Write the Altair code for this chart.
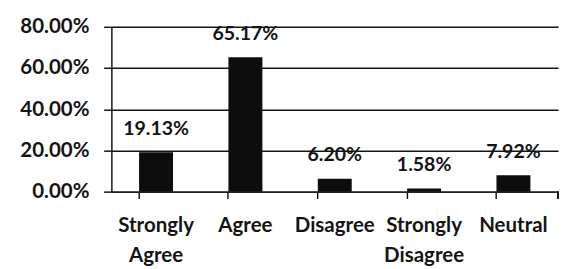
import altair as alt
import pandas as pd

categories = ["Strongly Agree", "Agree", "Disagree", "Strongly Disagree", "Neutral"]
values = [19.13, 65.17, 6.20, 1.58, 7.92]

df = pd.DataFrame({"category": categories, "value": values})

FONT = "Lato"
WEIGHT = "bold"
INK = "#141414"
W, H = 458, 169

x_enc = alt.X(
    "category:N",
    sort=categories,
    scale=alt.Scale(paddingInner=0.62, paddingOuter=0.31),
    axis=alt.Axis(
        title=None,
        labelAngle=0,
        labelExpr="split(datum.label, ' ')",
        labelFont=FONT,
        labelFontWeight=WEIGHT,
        labelFontSize=21,
        labelColor=INK,
        labelLineHeight=31,
        labelPadding=17,
        labelBaseline="top",
        bandPosition=0,
        ticks=True,
        tickSize=7,
        tickColor=INK,
        tickWidth=1.5,
        domainColor=INK,
        domainWidth=1.5,
        grid=False,
    ),
)

y_enc = alt.Y(
    "value:Q",
    scale=alt.Scale(domain=[0, 80]),
    axis=alt.Axis(
        title=None,
        values=[0, 20, 40, 60, 80],
        labelExpr="format(datum.value, '.2f') + '%'",
        labelFont=FONT,
        labelFontWeight=WEIGHT,
        labelFontSize=21,
        labelColor=INK,
        labelPadding=15,
        tickSize=8,
        tickColor=INK,
        tickWidth=1.5,
        domainColor=INK,
        domainWidth=1.5,
        grid=True,
        gridColor=INK,
        gridWidth=1.5,
    ),
)

base = alt.Chart(df).encode(x=x_enc, y=y_enc)

bars = base.mark_bar(color="#0d0d0d")

labels = base.transform_calculate(
    label="format(datum.value, '.2f') + '%'"
).mark_text(
    font=FONT, fontWeight=WEIGHT, fontSize=20, color=INK, baseline="bottom", dy=-14
).encode(text="label:N")

end_tick = alt.Chart(df).mark_rule(color=INK, strokeWidth=1.5, clip=False).encode(
    x=alt.value(W),
    y=alt.datum(0, type="quantitative"),
    y2=alt.datum(-3.3),
)

chart = alt.layer(bars, labels, end_tick).properties(
    width=W,
    height=H,
    autosize=alt.AutoSizeParams(type="none"),
    padding={"left": 106, "top": 16, "right": 4, "bottom": 75},
    background="white",
).configure_view(strokeWidth=0)

chart.save("out.html", embed_options={"renderer": "svg", "actions": False})
